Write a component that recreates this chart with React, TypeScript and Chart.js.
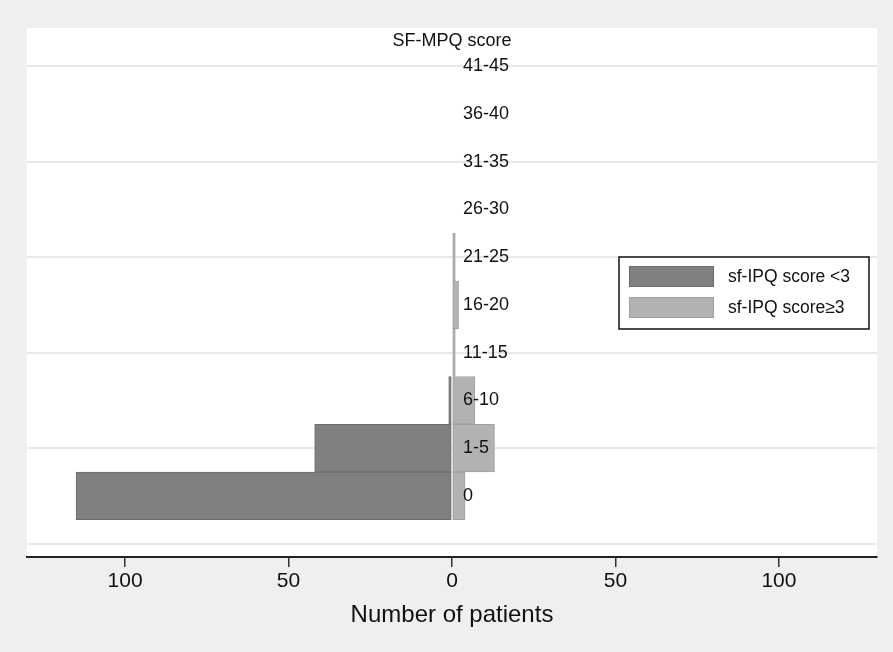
import React, { useEffect, useRef } from "react";
import { Chart, registerables } from "chart.js";

Chart.register(...registerables);

const categories = ["0", "1-5", "6-10", "11-15", "16-20", "21-25", "26-30", "31-35", "36-40", "41-45"];
const lowIpq = [115, 42, 1, 0, 0, 0, 0, 0, 0, 0];
const highIpq = [4, 13, 7, 1, 2, 1, 0, 0, 0, 0];
const seriesLabels = ["sf-IPQ score <3", "sf-IPQ score\u22653"];
const xTicks = [-100, -50, 0, 50, 100];
const yGridValues = [-1, 1, 3, 5, 7, 9];
const yAxisTitle = "SF-MPQ score";
const xAxisTitle = "Number of patients";

const FONT = "'Liberation Sans', Arial, Helvetica, sans-serif";
const darkFill = "#808080";
const darkBorder = "#6c6c6c";
const lightFill = "#b2b2b2";
const lightBorder = "#a0a0a0";

const decorPlugin = {
  id: "decor",
  beforeDraw(chart: any) {
    const { ctx, chartArea } = chart;
    ctx.save();
    ctx.fillStyle = "#efefef";
    ctx.fillRect(0, 0, chart.width, chart.height);
    ctx.fillStyle = "#ffffff";
    ctx.fillRect(chartArea.left, chartArea.top, chartArea.right - chartArea.left, chartArea.bottom - chartArea.top);
    ctx.restore();
  },
  afterDatasetsDraw(chart: any) {
    const { ctx, chartArea, scales } = chart;
    const xs = scales.x;
    const ys = scales.y;
    const x0 = xs.getPixelForValue(0);
    ctx.save();
    ctx.fillStyle = "#111";
    ctx.textBaseline = "middle";
    ctx.textAlign = "left";
    ctx.font = `18px ${FONT}`;
    categories.forEach((c, i) => {
      ctx.fillText(c, x0 + 11, ys.getPixelForValue(i));
    });
    ctx.textAlign = "center";
    ctx.fillText(yAxisTitle, x0, chartArea.top + 13);

    // legend
    const bx = chartArea.right - 258;
    const by = chartArea.top + 229;
    const bw = 250;
    const bh = 72;
    ctx.fillStyle = "#ffffff";
    ctx.fillRect(bx, by, bw, bh);
    ctx.strokeStyle = "#111";
    ctx.lineWidth = 1.5;
    ctx.strokeRect(bx, by, bw, bh);
    const fills = [darkFill, lightFill];
    const borders = [darkBorder, lightBorder];
    ctx.font = `17.5px ${FONT}`;
    ctx.textAlign = "left";
    seriesLabels.forEach((lab, i) => {
      const sy = by + 9 + i * 31;
      ctx.fillStyle = fills[i];
      ctx.fillRect(bx + 10, sy, 85, 21);
      ctx.strokeStyle = borders[i];
      ctx.lineWidth = 1;
      ctx.strokeRect(bx + 10.5, sy + 0.5, 84, 20);
      ctx.fillStyle = "#111";
      ctx.fillText(lab, bx + 109, sy + 11);
    });
    ctx.restore();
  },
};

export default function App() {
  const ref = useRef<HTMLCanvasElement | null>(null);
  useEffect(() => {
    document.body.style.margin = "0";
    if (!ref.current) return;
    const chart = new Chart(ref.current, {
      type: "bar",
      data: {
        datasets: [
          {
            label: seriesLabels[0],
            data: lowIpq.map((v, i) => ({ x: v === 0 ? null : -v, y: i })) as any,
            backgroundColor: darkFill,
            borderColor: darkBorder,
            borderWidth: 1,
            borderSkipped: false,
            grouped: false,
            barPercentage: 1,
            categoryPercentage: 1,
          },
          {
            label: seriesLabels[1],
            data: highIpq.map((v, i) => ({ x: v === 0 ? null : v, y: i })) as any,
            backgroundColor: lightFill,
            borderColor: lightBorder,
            borderWidth: 1,
            borderSkipped: false,
            grouped: false,
            barPercentage: 1,
            categoryPercentage: 1,
          },
        ],
      },
      options: {
        indexAxis: "y",
        animation: false,
        responsive: false,
        layout: { padding: { left: 27, right: 16, top: 28, bottom: 0 } },
        plugins: { legend: { display: false }, tooltip: { enabled: false } },
        scales: {
          y: {
            type: "linear",
            min: -1.28,
            max: 9.8,
            offset: false,
            afterBuildTicks: (s: any) => {
              s.ticks = yGridValues.map((v) => ({ value: v }));
            },
            afterFit: (s: any) => {
              s.width = 0;
            },
            ticks: { display: false },
            border: { display: false },
            grid: { color: "#e8e8e8", lineWidth: 2, drawTicks: false, offset: false },
          },
          x: {
            type: "linear",
            min: -130,
            max: 130,
            afterBuildTicks: (s: any) => {
              s.ticks = xTicks.map((v) => ({ value: v }));
            },
            afterFit: (s: any) => {
              s.height = 95;
            },
            ticks: {
              callback: (v: any) => String(Math.abs(Number(v))),
              font: { family: FONT, size: 21 },
              color: "#111",
              padding: 2,
              maxRotation: 0,
            },
            border: { display: true, color: "#222", width: 2 },
            grid: { drawOnChartArea: false, drawTicks: true, tickLength: 10, color: "#333", lineWidth: 1.5 },
            title: {
              display: true,
              text: xAxisTitle,
              font: { family: FONT, size: 24 },
              color: "#111",
              padding: { top: 4, bottom: 22 },
            },
          },
        },
      },
      plugins: [decorPlugin],
    });
    return () => chart.destroy();
  }, []);
  return (
    <div style={{ width: 893, height: 652 }}>
      <canvas ref={ref} width={893} height={652} />
    </div>
  );
}
